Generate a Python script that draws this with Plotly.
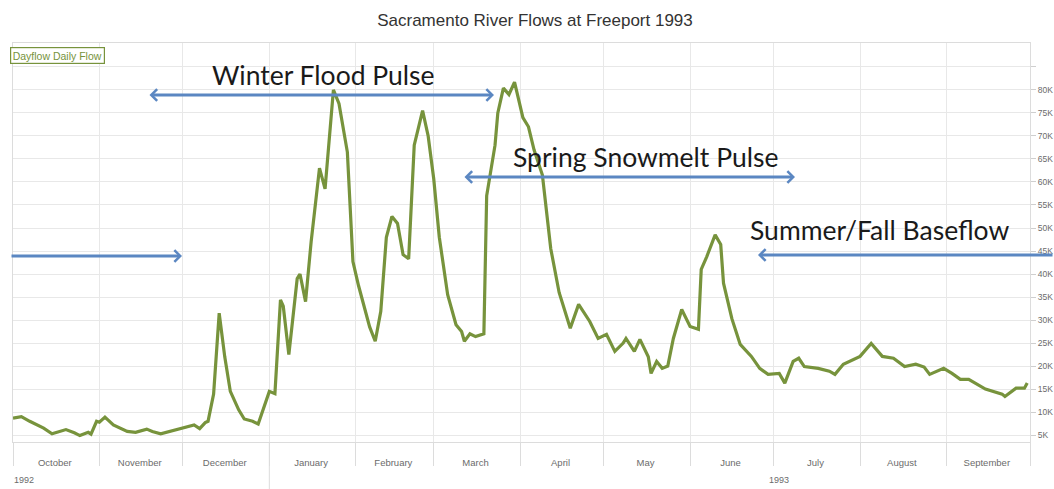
import plotly.graph_objects as go

# ---- data ----
dates = [
    "1992-10-01", "1992-10-04", "1992-10-07", "1992-10-12", "1992-10-15", "1992-10-17",
    "1992-10-20", "1992-10-23", "1992-10-25", "1992-10-28", "1992-10-29", "1992-10-31",
    "1992-11-01", "1992-11-03", "1992-11-06", "1992-11-11", "1992-11-14", "1992-11-18",
    "1992-11-20", "1992-11-23", "1992-11-27", "1992-11-30", "1992-12-03", "1992-12-05",
    "1992-12-07", "1992-12-09", "1992-12-10", "1992-12-12", "1992-12-14", "1992-12-16",
    "1992-12-18", "1992-12-21", "1992-12-23", "1992-12-26", "1992-12-28", "1992-12-30",
    "1993-01-01", "1993-01-03", "1993-01-05", "1993-01-06", "1993-01-08", "1993-01-11",
    "1993-01-12", "1993-01-14", "1993-01-16", "1993-01-19", "1993-01-21", "1993-01-24",
    "1993-01-26", "1993-01-29", "1993-01-31", "1993-02-02", "1993-02-04", "1993-02-06",
    "1993-02-08", "1993-02-10", "1993-02-12", "1993-02-14", "1993-02-16", "1993-02-18",
    "1993-02-20", "1993-02-22", "1993-02-25", "1993-02-27", "1993-03-01", "1993-03-03",
    "1993-03-06", "1993-03-09", "1993-03-11", "1993-03-12", "1993-03-14", "1993-03-16",
    "1993-03-19", "1993-03-20", "1993-03-23", "1993-03-24", "1993-03-26", "1993-03-28",
    "1993-03-30", "1993-04-02", "1993-04-04", "1993-04-06", "1993-04-09", "1993-04-12",
    "1993-04-15", "1993-04-19", "1993-04-22", "1993-04-26", "1993-04-29", "1993-05-02",
    "1993-05-05", "1993-05-08", "1993-05-09", "1993-05-12", "1993-05-14", "1993-05-17",
    "1993-05-18", "1993-05-20", "1993-05-22", "1993-05-24", "1993-05-26", "1993-05-29",
    "1993-06-01", "1993-06-04", "1993-06-05", "1993-06-07", "1993-06-10", "1993-06-12",
    "1993-06-13", "1993-06-16", "1993-06-19", "1993-06-23", "1993-06-26", "1993-06-29",
    "1993-07-03", "1993-07-05", "1993-07-08", "1993-07-10", "1993-07-12", "1993-07-17",
    "1993-07-21", "1993-07-23", "1993-07-26", "1993-08-01", "1993-08-05", "1993-08-09",
    "1993-08-13", "1993-08-17", "1993-08-21", "1993-08-24", "1993-08-26", "1993-08-31",
    "1993-09-03", "1993-09-06", "1993-09-09", "1993-09-15", "1993-09-21", "1993-09-22",
    "1993-09-26", "1993-09-29", "1993-09-30",
]
flow_cfs = [
    8700, 9000, 8000, 6500, 5300, 5600,
    6200, 5500, 4900, 5600, 5200, 8000,
    7800, 8900, 7200, 5800, 5600, 6300,
    5800, 5300, 5900, 6300, 6800, 7200,
    6400, 7700, 8000, 13900, 31500, 22000,
    14500, 10500, 8500, 8000, 7400, 11000,
    14500, 14000, 34400, 33000, 22500, 39000,
    40000, 34000, 47000, 63000, 58500, 80000,
    77000, 66500, 42700, 37500, 33000, 28500,
    25400, 31900, 48000, 52500, 51000, 44200,
    43300, 68000, 75500, 70000, 60700, 48000,
    35500, 29000, 27500, 25400, 27000, 26400,
    27000, 57000, 68000, 75000, 80400, 79000,
    81700, 74000, 72000, 67000, 61500, 45500,
    36000, 28200, 33400, 29700, 26000, 26900,
    23200, 25000, 26000, 23200, 25800, 22000,
    18400, 21000, 19500, 20000, 26000, 32300,
    28600, 28000, 41000, 43800, 48500, 46400,
    38000, 30300, 24700, 22100, 19500, 18200,
    18400, 16300, 21000, 21700, 19900, 19500,
    18900, 18200, 20400, 22100, 24900, 22100,
    21700, 19900, 20400, 19800, 18200, 19500,
    18400, 17100, 17100, 15000, 13900, 13400,
    15200, 15200, 16300,
]

month_names = ["October", "November", "December", "January", "February", "March",
               "April", "May", "June", "July", "August", "September"]
month_mid = ["1992-10-16", "1992-11-15 12:00", "1992-12-16", "1993-01-16",
             "1993-02-14 12:00", "1993-03-16", "1993-04-15 12:00", "1993-05-16",
             "1993-06-15 12:00", "1993-07-16", "1993-08-16", "1993-09-15 12:00"]

y_tickvals = [5000 * i for i in range(1, 18)]
y_ticktext = [f"{v // 1000}K" for v in y_tickvals[:-1]] + [""]

title_text = "Sacramento River Flows at Freeport 1993"
series_name = "Dayflow Daily Flow"
labels = ["Winter Flood Pulse", "Spring Snowmelt Pulse", "Summer/Fall Baseflow"]

# ---- layout geometry ----
W, H = 1054, 489
L, R, T, B = 13, 24, 43, 47
PW, PH = W - L - R, H - T - B

def px(xpix):
    return (xpix - L) / PW

def py(ypix):
    return (H - B - ypix) / PH

GREEN = "#77933c"
BLUE = "#5b87c2"
GRID = "#e8e8e8"
TXT = "#6b6b6b"
FONT = "Liberation Sans, Arial"

fig = go.Figure()
fig.add_trace(go.Scatter(
    x=dates, y=flow_cfs, mode="lines", name=series_name,
    line=dict(color=GREEN, width=3.2), showlegend=False,
))

fig.update_layout(
    width=W, height=H,
    margin=dict(l=L, r=R, t=T, b=B, autoexpand=False),
    paper_bgcolor="white", plot_bgcolor="white",
    title=dict(text=title_text, x=535 / W, xanchor="center", y=1 - 20 / H, yanchor="middle",
               xref="container", yref="container",
               font=dict(family=FONT, size=17, color="#333333")),
    xaxis=dict(
        type="date", range=["1992-10-01", "1993-10-01"], automargin=False,
        tickvals=month_mid, ticktext=month_names, ticks="",
        tickfont=dict(family=FONT, size=9.5, color=TXT),
        ticklabelstandoff=12,
        showgrid=False, showline=True, linecolor="#dcdcdc", mirror=True,
        minor=dict(tick0="1992-10-01", dtick="M1", showgrid=True, gridcolor=GRID,
                   ticks="outside", ticklen=23, tickcolor="#dcdcdc", tickwidth=1),
        zeroline=False,
    ),
    yaxis=dict(
        side="right", range=[3500, 90200], automargin=False,
        tickvals=y_tickvals, ticktext=y_ticktext,
        tickfont=dict(family=FONT, size=8.5, color=TXT),
        ticks="outside", ticklen=5, tickcolor="#cfcfcf",
        showgrid=True, gridcolor=GRID, showline=True, linecolor="#dcdcdc", mirror=True,
        zeroline=False,
    ),
)

# Jan 1 year-boundary line extending to the bottom
fig.add_shape(type="line", xref="x", yref="paper", x0="1993-01-01", x1="1993-01-01",
              y0=-B / PH, y1=0, line=dict(color="#dcdcdc", width=1))

# year labels
fig.add_annotation(x=px(12), y=py(480), xref="paper", yref="paper", text="1992",
                   showarrow=False, xanchor="left", yanchor="middle",
                   font=dict(family=FONT, size=9, color=TXT))
fig.add_annotation(x="1993-07-03", y=py(480), xref="x", yref="paper", text="1993",
                   showarrow=False, xanchor="center", yanchor="middle",
                   font=dict(family=FONT, size=9, color=TXT))

# legend-like box
fig.add_annotation(x=px(10), y=py(55), xref="paper", yref="paper", text=series_name,
                   showarrow=False, xanchor="left", yanchor="middle",
                   font=dict(family=FONT, size=10.5, color=GREEN),
                   bordercolor=GREEN, borderwidth=1.2, borderpad=1.5, bgcolor="white")

# text labels
LF = dict(family="Lato, Open Sans, sans-serif", size=26.5, color="#1a1a1a")
fig.add_annotation(x=px(323), y=py(75), xref="paper", yref="paper", text=labels[0],
                   showarrow=False, xanchor="center", yanchor="middle", font=LF)
fig.add_annotation(x=px(645), y=py(157), xref="paper", yref="paper", text=labels[1],
                   showarrow=False, xanchor="center", yanchor="middle", font=LF)
fig.add_annotation(x=px(879), y=py(230), xref="paper", yref="paper", text=labels[2],
                   showarrow=False, xanchor="center", yanchor="middle", font=LF)

# arrows
def arrow(x_head, x_tail, ypix, both=False):
    fig.add_annotation(
        x=px(x_head), y=py(ypix), xref="paper", yref="paper",
        ax=x_tail - x_head, ay=0, axref="pixel", ayref="pixel",
        text="", showarrow=True, arrowhead=4, arrowsize=0.75, arrowwidth=3,
        arrowcolor=BLUE, standoff=0, startstandoff=0,
        arrowside="end+start" if both else "end", startarrowhead=4, startarrowsize=0.75,
    )

arrow(494, 148, 95, both=True)
arrow(795, 463, 177, both=True)
arrow(758, 1054, 255)
arrow(182, 10, 256)

fig.write_html("out.html", config={"displayModeBar": False},
               post_script="document.body.style.margin='0';document.body.style.overflow='hidden';")
